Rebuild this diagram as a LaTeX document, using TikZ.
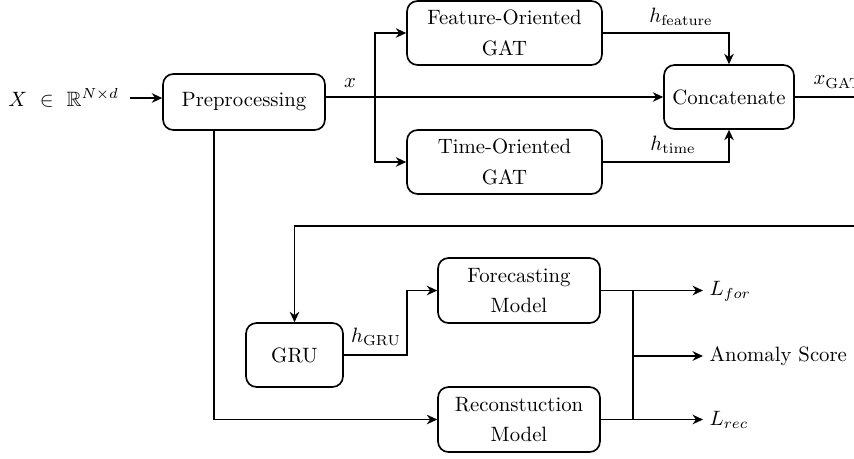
\documentclass[tikz,border=0pt]{standalone}
\usepackage{amssymb}
\usetikzlibrary{arrows.meta}

\begin{document}
\begin{tikzpicture}[x=0.4817pt,y=-0.4817pt,
  block/.style={draw,thick,rounded corners=5pt,align=center,inner sep=2pt},
  link/.style={thick},
  flow/.style={thick,-{Stealth[length=5pt,width=4.6pt,inset=1.6pt]}},
  lbl/.style={inner sep=1pt},
  outlbl/.style={anchor=west,inner sep=3pt}]
\useasboundingbox (0,0) rectangle (854,458);
\clip (0,0) rectangle (854,458);

% processing blocks
\node[block,minimum width=78pt,minimum height=27pt] (pre) at (244,102) {Preprocessing};
\node[block,minimum width=93.9pt,minimum height=30.8pt] (fgat) at (504.5,33) {Feature-Oriented\\[2.6pt]GAT};
\node[block,minimum width=93.9pt,minimum height=30.8pt] (tgat) at (504.5,162) {Time-Oriented\\[2.6pt]GAT};
\node[block,minimum width=62.6pt,minimum height=30.8pt] (cat) at (729,97) {Concatenate};
\node[block,minimum width=46.7pt,minimum height=30.8pt] (gru) at (294.5,355) {GRU};
\node[block,minimum width=78pt,minimum height=31.3pt] (fore) at (519,290.5) {Forecasting\\[2.6pt]Model};
\node[block,minimum width=78pt,minimum height=31.3pt] (rec) at (519,419.5) {Reconstuction\\[2.6pt]Model};

% input
\node[lbl,anchor=west] (in) at (6,98) {$X \ \in \ \mathbb{R}^{N\times d}$};
\coordinate (inend) at (130,98);
\draw[flow] (inend) -- (pre.west |- inend);

% x to concatenate and the two GAT branches
\draw[flow] (pre.east |- cat.west) -- (cat.west);
\node[lbl] (xlab) at (350,83) {$x$};
\coordinate (br) at (375,97);
\draw[flow] (br) |- (fgat.west);
\draw[flow] (br) |- (tgat.west);

% GAT outputs
\draw[flow] (fgat.east) -| (cat.north);
\node[lbl] (hf) at (681,17) {$h_{\mathrm{feature}}$};
\draw[flow] (tgat.east) -| (cat.south);
\node[lbl] (ht) at (673,145) {$h_{\mathrm{time}}$};

% concatenated output and feedback to GRU
\draw[link] (cat.east) -- ++(80,0);
\node[lbl,anchor=west] (xg) at (811,82) {$x_{\mathrm{GAT}}$};
\coordinate (fb) at (870,226);
\draw[flow] (fb) -| (gru.north);

% GRU to forecasting
\coordinate (gbend) at (407,355);
\draw[flow] (gru.east) -- (gbend) |- (fore.west);
\node[lbl] (hg) at (376,337) {$h_{\mathrm{GRU}}$};

% preprocessing to reconstruction
\coordinate (tap) at (214,0);
\draw[flow] (pre.south -| tap) |- (rec.west);

% outputs
\node[outlbl] (lfor) at (703,291) {$L_{for}$};
\node[outlbl] (anom) at (703,356) {Anomaly Score};
\node[outlbl] (lrec) at (703,419.5) {$L_{rec}$};
\coordinate (jn) at (633,356);
\draw[flow] (fore.east) -- (fore.east -| lfor.west);
\draw[flow] (rec.east) -- (rec.east -| lrec.west);
\draw[link] (fore.east -| jn) -- (rec.east -| jn);
\draw[flow] (jn) -- (anom.west);
\end{tikzpicture}
\end{document}
